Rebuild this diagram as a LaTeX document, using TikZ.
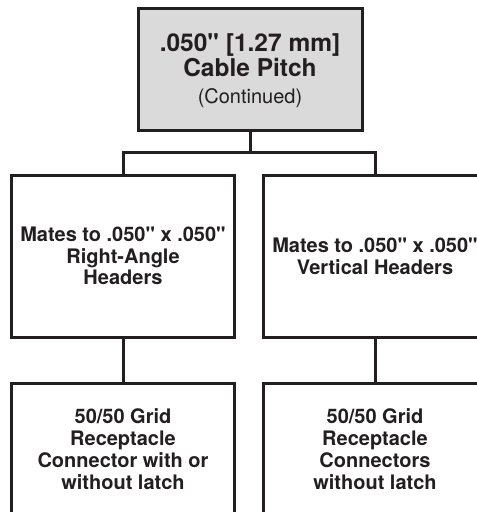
\documentclass[tikz,border=0pt]{standalone}
\usepackage{fontspec}
\setmainfont{TeX Gyre Heros}[Ligatures=TeXOff]
\definecolor{ink}{HTML}{231F20}
\definecolor{boxgray}{HTML}{DADADA}
\begin{document}
\begin{tikzpicture}[x=1pt,y=1pt,
  box/.style={draw=ink, line width=3pt, rectangle, outer sep=0pt, inner sep=0pt, fill=white},
  titletxt/.style={text=ink, inner sep=0pt, anchor=base, font=\bfseries\fontsize{24.5}{25}\selectfont},
  subtxt/.style={text=ink, inner sep=0pt, anchor=base, font=\fontsize{20}{20}\selectfont},
  bodytxt/.style={text=ink, align=center, inner sep=0pt, font=\bfseries\fontsize{20}{21.5}\selectfont},
  lowtxt/.style={text=ink, align=center, inner sep=0pt, anchor=north, font=\bfseries\fontsize{20}{22.3}\selectfont},
  conn/.style={draw=ink, line width=3pt}]
\useasboundingbox (0,0) rectangle (477,512);
\clip (0,0) rectangle (477,512);
% top box
\node[box, fill=boxgray, minimum width=224pt, minimum height=121.5pt] (top) at (250,442.25) {};
\node[titletxt] (t1) at (250,460) {.050" [1.27 mm]};
\node[titletxt] (t2) at (250,435.5) {Cable Pitch};
\node[subtxt] (t3) at (250,408.5) {(Continued)};
% middle boxes
\node[box, minimum width=222.6pt, minimum height=162.3pt] (mL) at (123,255.4) {};
\node[bodytxt] (mLt) at ([yshift=0.3pt]mL.center) {Mates to .050" x .050"\\Right-Angle\\Headers};
\node[box, minimum width=223pt, minimum height=162.3pt] (mR) at (375,255.4) {};
\node[bodytxt] (mRt) at ([yshift=0.3pt]mR.center) {Mates to .050" x .050"\\Vertical Headers};
% bottom boxes
\node[box, minimum width=222.6pt, minimum height=170pt, anchor=north] (bL) at (123,128) {};
\node[lowtxt] (bLt) at ([yshift=-24pt]bL.north) {50/50 Grid\\Receptacle\\Connector with or\\without latch};
\node[box, minimum width=223pt, minimum height=170pt, anchor=north] (bR) at (375,128) {};
\node[lowtxt] (bRt) at ([yshift=-24pt]bR.north) {50/50 Grid\\Receptacle\\Connectors\\without latch};
% connectors
\coordinate (j) at (250,359.5);
\draw[conn] (top.south) -- (j);
\draw[conn] (mL.north) |- (j) -| (mR.north);
\draw[conn] (mL.south) -- (bL.north);
\draw[conn] (mR.south) -- (bR.north);
\end{tikzpicture}
\end{document}
